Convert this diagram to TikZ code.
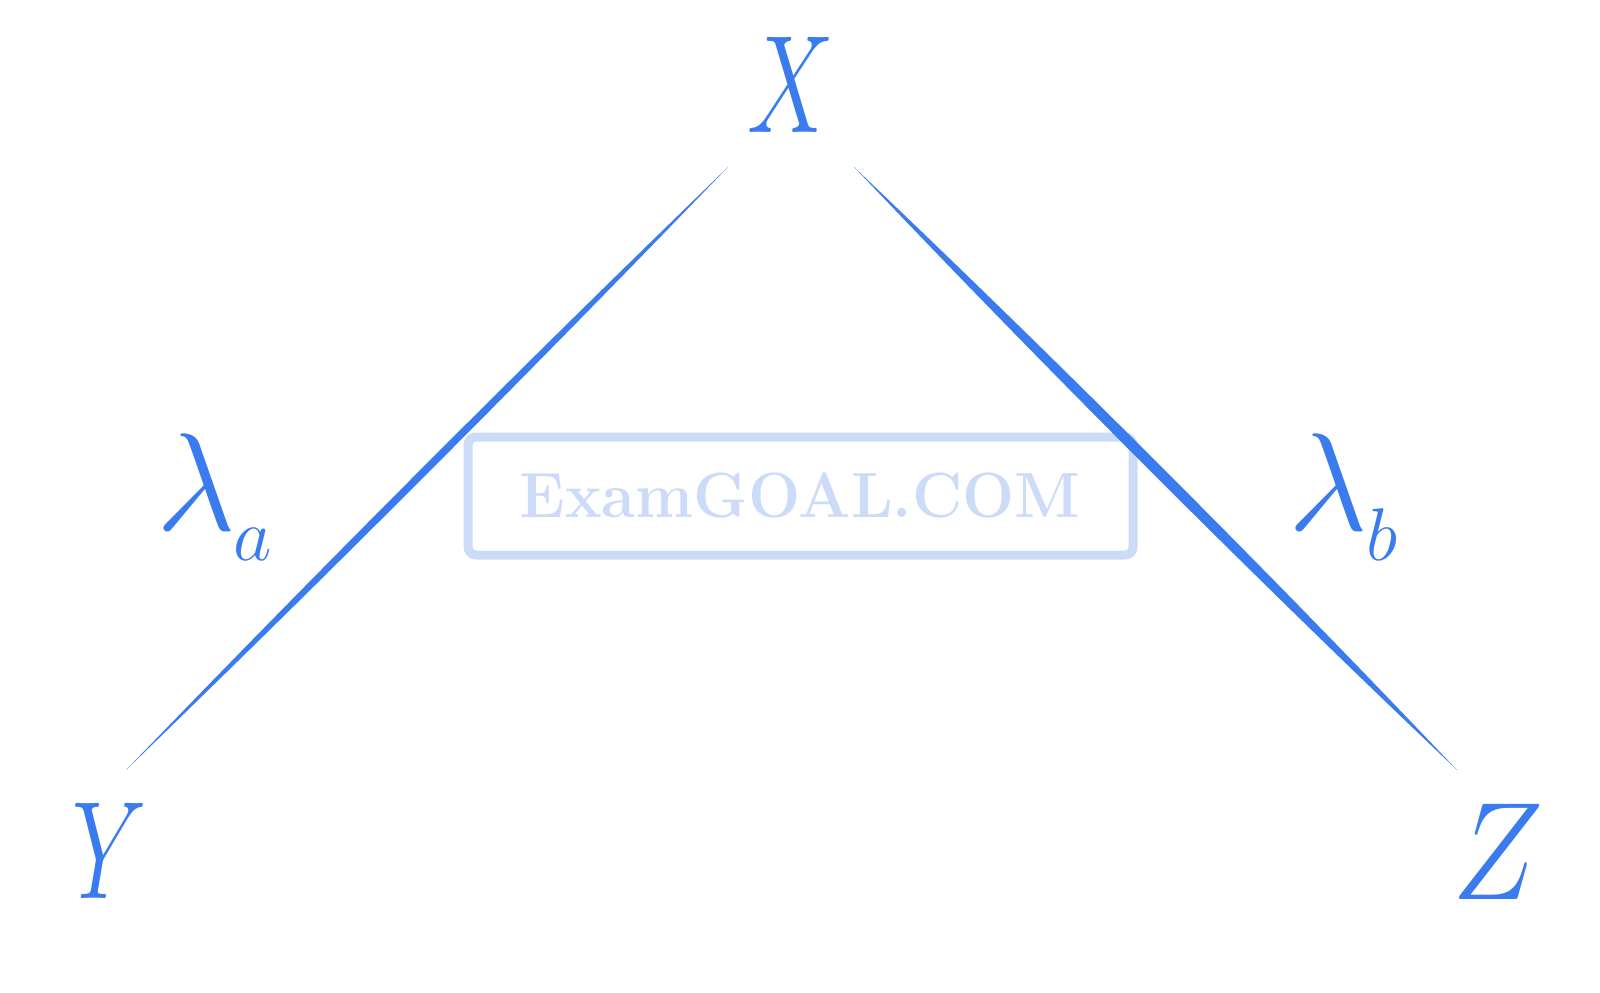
\documentclass[tikz,border=0pt]{standalone}
\usetikzlibrary{calc}
\definecolor{ink}{HTML}{3B7BF0}
\definecolor{wm}{HTML}{CCDCF8}
\begin{document}
\begin{tikzpicture}[x=0.5pt,y=-0.5pt,
  letter/.style={text=ink,inner sep=0pt,font=\fontsize{24.88}{24.88}\selectfont,scale=2.8,transform shape},
  subletter/.style={text=ink,inner sep=0pt,font=\fontsize{24.88}{24.88}\selectfont,scale=1.5,transform shape,anchor=base west},
  taper/.style={fill=ink,draw=none}]
\useasboundingbox (0,0) rectangle (1600,992);
% watermark
\draw[wm,line width=4.5pt,rounded corners=4pt] (468,437) rectangle (1133,555);
\node[text=wm,font=\fontsize{32}{32}\bfseries\selectfont,inner sep=0pt,xscale=0.965,transform shape,anchor=base] (wmtext) at (800,517) {ExamGOAL.COM};
% letters
\node[letter,xscale=0.7] (X) at (791,85) {$X$};
\node[letter,xscale=0.68] (Y) at (110,851) {$Y$};
\node[letter,xscale=0.88] (Z) at (1498,852) {$Z$};
\node[letter,anchor=base west] (la) at (155,530) {$\lambda$};
\node[subletter] (sa) at (233,560) {$a$};
\node[letter,anchor=base west] (lb) at (1287,530) {$\lambda$};
\node[subletter] (sb) at (1366,560) {$b$};
% line end points
\coordinate (a1) at (126,770);
\coordinate (a2) at (728,167);
\coordinate (b1) at (854,167);
\coordinate (b2) at (1457,770);
% tapered strokes
\fill[taper] (a1) .. controls ($(a1)!0.33!(a2)!2.5pt!90:(a2)$) and ($(a1)!0.67!(a2)!2.5pt!90:(a2)$) .. (a2)
  .. controls ($(a1)!0.67!(a2)!2.5pt!-90:(a2)$) and ($(a1)!0.33!(a2)!2.5pt!-90:(a2)$) .. (a1) -- cycle;
\fill[taper] (b1) .. controls ($(b1)!0.33!(b2)!3.6pt!90:(b2)$) and ($(b1)!0.67!(b2)!3.6pt!90:(b2)$) .. (b2)
  .. controls ($(b1)!0.67!(b2)!3.6pt!-90:(b2)$) and ($(b1)!0.33!(b2)!3.6pt!-90:(b2)$) .. (b1) -- cycle;
\end{tikzpicture}
\end{document}
